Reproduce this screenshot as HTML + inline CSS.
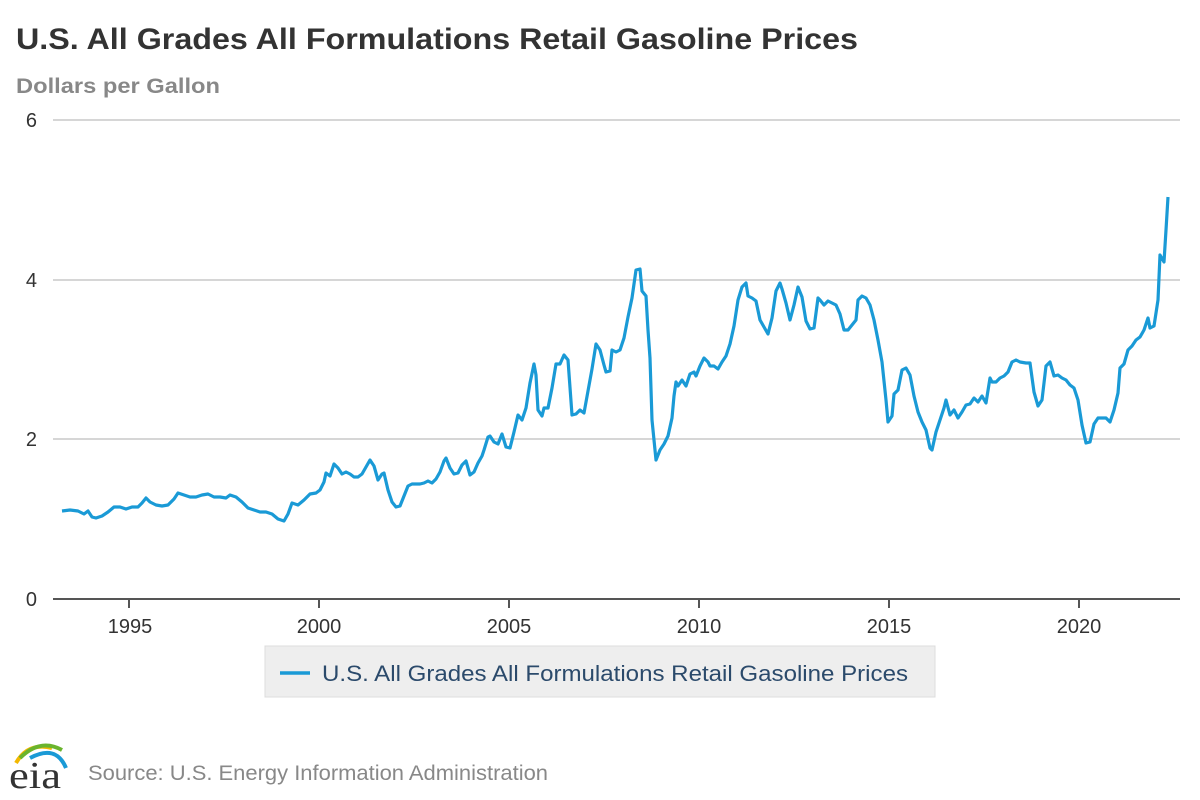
<!DOCTYPE html>
<html><head><style>
body{margin:0;background:#fff;}
svg{display:block;font-family:"Liberation Sans",Arial,sans-serif;}
</style></head><body>
<svg width="1200" height="800" viewBox="0 0 1200 800">
<text x="16" y="49" font-size="30" font-weight="bold" fill="#333" textLength="842" lengthAdjust="spacingAndGlyphs">U.S. All Grades All Formulations Retail Gasoline Prices</text>
<text x="16" y="93" font-size="21" font-weight="bold" fill="#888" textLength="204" lengthAdjust="spacingAndGlyphs">Dollars per Gallon</text>
<g stroke="#c8c8c8" stroke-width="1.5">
<line x1="53" y1="120" x2="1180" y2="120"/><line x1="53" y1="280" x2="1180" y2="280"/><line x1="53" y1="439" x2="1180" y2="439"/>
</g>
<line x1="53" y1="599" x2="1180" y2="599" stroke="#555" stroke-width="2"/>
<g stroke="#555" stroke-width="2">
<line x1="129" y1="599" x2="129" y2="608"/><line x1="319" y1="599" x2="319" y2="608"/><line x1="509" y1="599" x2="509" y2="608"/><line x1="699" y1="599" x2="699" y2="608"/><line x1="889" y1="599" x2="889" y2="608"/><line x1="1079" y1="599" x2="1079" y2="608"/>
</g>
<g font-size="20" fill="#333" text-anchor="end">
<text x="37" y="127">6</text><text x="37" y="287">4</text><text x="37" y="446">2</text><text x="37" y="606">0</text>
</g>
<g font-size="20" fill="#333" text-anchor="middle">
<text x="130" y="633">1995</text><text x="319" y="633">2000</text><text x="509" y="633">2005</text><text x="699" y="633">2010</text><text x="889" y="633">2015</text><text x="1079" y="633">2020</text>
</g>
<polyline fill="none" stroke="#1a9ad6" stroke-width="3.2" stroke-linejoin="round" points="62,511 70,510 78,511 84,514 88,511 92,517 96,518 102,516 108,512 114,507 120,507 126,509 132,507 138,507 142,503 146,498 150,502 156,505 162,506 168,505 174,499 178,493 184,495 190,497 196,497 202,495 208,494 214,497 220,497 226,498 230,495 236,497 242,502 248,508 254,510 260,512 266,512 272,514 278,519 284,521 288,514 292,503 298,505 304,500 310,494 316,493 320,490 324,482 326,473 330,476 334,464 338,468 342,474 346,472 350,474 354,477 358,477 362,474 366,467 370,460 374,466 378,480 382,474 384,473 388,490 392,502 396,507 400,506 404,496 408,486 412,484 416,484 420,484 424,483 428,481 432,483 436,479 440,472 444,461 446,458 450,468 454,474 458,473 462,465 466,461 470,475 474,472 478,463 482,456 484,450 488,437 490,436 494,442 498,444 502,434 506,447 510,448 514,432 518,415 522,420 526,408 530,383 534,364 536,375 538,410 542,416 544,408 548,408 552,388 556,364 560,364 564,355 568,360 572,415 576,414 580,410 584,413 588,391 592,369 596,344 600,350 604,365 606,372 610,371 612,350 616,352 620,350 624,338 628,317 632,298 636,270 640,269 642,291 646,296 648,330 650,358 652,420 654,440 656,460 660,450 664,444 668,436 672,418 674,396 676,382 678,386 682,380 686,386 690,374 694,372 696,376 700,366 704,358 708,362 710,366 714,366 718,369 722,362 726,356 730,344 734,326 738,300 742,287 746,283 748,296 752,298 756,301 760,320 764,327 768,334 772,318 776,291 780,283 782,289 786,303 790,320 794,305 798,287 802,297 806,321 810,329 814,328 818,298 820,300 824,305 828,301 832,303 836,305 840,314 844,330 848,330 852,325 856,320 858,300 862,296 866,298 870,305 874,320 878,340 882,362 886,400 888,422 892,416 894,394 898,390 902,370 906,368 910,375 914,396 918,412 922,422 926,430 930,448 932,450 936,432 940,420 944,408 946,400 950,415 954,410 958,418 962,412 966,405 970,404 974,398 978,402 982,396 986,403 990,378 992,382 996,382 1000,378 1004,376 1008,372 1012,362 1016,360 1020,362 1026,363 1030,363 1034,392 1038,406 1042,400 1046,366 1050,362 1054,376 1058,375 1062,378 1066,380 1070,385 1074,388 1078,400 1082,425 1086,443 1090,442 1094,424 1098,418 1102,418 1106,418 1110,422 1114,410 1118,393 1120,368 1124,364 1128,350 1132,346 1136,340 1140,337 1144,330 1148,318 1150,328 1154,326 1158,300 1160,255 1164,262 1166,230 1168,197"/>
<rect x="265" y="646" width="670" height="51" fill="#eeeeee" stroke="#dddddd"/>
<line x1="280" y1="673" x2="310" y2="673" stroke="#1a9ad6" stroke-width="3.5"/>
<text x="322" y="681" font-size="22" fill="#2b4a6b" textLength="586" lengthAdjust="spacingAndGlyphs">U.S. All Grades All Formulations Retail Gasoline Prices</text>
<g>
<path d="M16,763 Q28,742 52,748" stroke="#f2b800" stroke-width="4" fill="none"/>
<path d="M20,758 Q40,738 62,750" stroke="#6ab42d" stroke-width="4" fill="none"/>
<path d="M30,758 Q56,744 66,768" stroke="#1a9ad6" stroke-width="4" fill="none"/>
<text x="9" y="788" font-size="38" font-family="Liberation Serif,serif" fill="#333" textLength="52" lengthAdjust="spacingAndGlyphs">eia</text>
</g>
<text x="88" y="780" font-size="21" fill="#888" textLength="460" lengthAdjust="spacingAndGlyphs">Source: U.S. Energy Information Administration</text>
</svg>
</body></html>
